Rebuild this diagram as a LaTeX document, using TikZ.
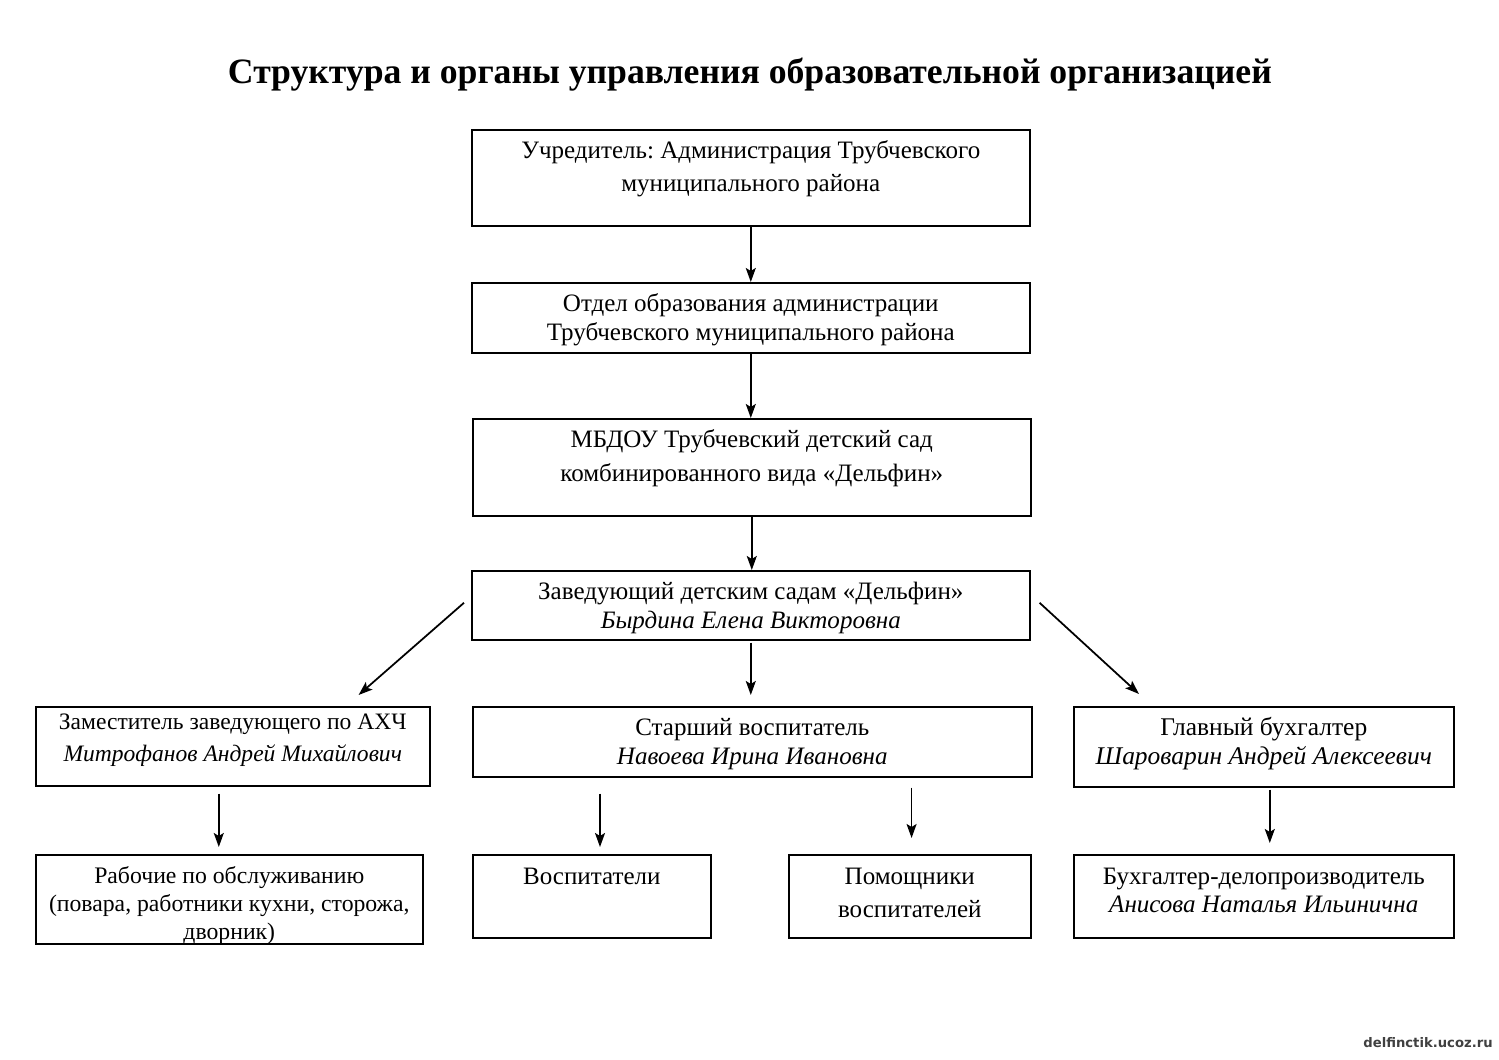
\documentclass[tikz,border=0pt]{standalone}
\usepackage{fontspec}
\setmainfont{Liberation Serif}
\newfontfamily\wmfont{DejaVu Sans}
\usetikzlibrary{arrows.meta}
\frenchspacing

\newlength\pxl
\setlength\pxl{0.02cm}
% box text: [font size], width, height, top pad, line skip, text
\newcommand{\cell}[6][14.25]{\parbox[c][#3\pxl][t]{#2\pxl}{\centering\fontsize{#1}{#5\pxl}\selectfont\rule{0pt}{#4\pxl}#6}}

\begin{document}
\begin{tikzpicture}[x=0.02cm,y=-0.02cm,
  box/.style={draw,line width=0.9pt,inner sep=0pt,anchor=north west},
  arr/.style={-{Stealth[length=0.28cm,width=0.2cm,inset=0.06cm]},line width=1pt}]
 \useasboundingbox (0,0) rectangle (1499,1060);
 \node[anchor=base,font=\fontsize{20.3}{24}\selectfont\bfseries] (title) at (750,84) {Структура и органы управления образовательной организацией};

 \node[box] (b1) at (471,129) {\cell{558}{96}{29}{33}{Учредитель: Администрация Трубчевского\\ муниципального района}};
 \node[box] (b2) at (471,282) {\cell{558}{70}{29}{29}{Отдел образования администрации\\ Трубчевского муниципального района}};
 \node[box] (b3) at (472,418) {\cell{558}{97}{29}{34}{МБДОУ Трубчевский детский сад\\ комбинированного вида «Дельфин»}};
 \node[box] (b4) at (471,570) {\cell{558}{69}{29}{29}{Заведующий детским садам «Дельфин»\\ \textit{Бырдина Елена Викторовна}}};

 \node[box] (b5) at (35,706) {\cell[13.4]{394}{79}{23}{32}{Заместитель заведующего по АХЧ\\ \textit{Митрофанов Андрей Михайлович}}};
 \node[box] (b6) at (472,706) {\cell{559}{70}{29}{29}{Старший воспитатель\\ \textit{Навоева Ирина Ивановна}}};
 \node[box] (b7) at (1073,706) {\cell[14.5]{380}{80}{29}{29}{Главный бухгалтер\\ \textit{Шароварин Андрей Алексеевич}}};

 \node[box] (b8) at (35,854) {\cell[13.5]{387}{89}{29}{28}{Рабочие по обслуживанию\\ (повара, работники кухни, сторожа,\\ дворник)}};
 \node[box] (b9) at (472,854) {\cell{238}{83}{30}{33}{Воспитатели}};
 \node[box] (b10) at (788,854) {\cell{242}{83}{30}{33}{Помощники\\ воспитателей}};
 \node[box] (b11) at (1073,854) {\cell{380}{83}{30}{28}{Бухгалтер-делопроизводитель\\ \textit{Анисова Наталья Ильинична}}};

 % arrows
 \draw[arr] (b1.south) -- (b1.south |- b2.north);
 \draw[arr] (b2.south) -- (b2.south |- b3.north);
 \draw[arr] (b3.south) -- (b3.south |- b4.north);
 \draw[arr,shorten <=2\pxl,shorten >=11\pxl] (b4.south) -- (b4.south |- b6.north);
 \draw[arr] ([shift={(-7,-2.5)}]b4.west) -- ([shift={(-72,-11)}]b5.north east);
 \draw[arr] ([shift={(9,-2.5)}]b4.east) -- ([shift={(66,-12)}]b7.north west);
 \draw[arr,shorten <=7\pxl,shorten >=7\pxl] ([xshift=-14\pxl]b5.south) -- ([xshift=-14\pxl]b5.south |- b8.north);
 \draw[arr,shorten <=16\pxl,shorten >=7\pxl] ([xshift=128\pxl]b6.south west) -- ([xshift=128\pxl]b6.south west |- b9.north);
 \draw[arr,shorten <=10\pxl,shorten >=16\pxl] ([xshift=-121\pxl]b6.south east) -- ([xshift=-121\pxl]b6.south east |- b10.north);
 \draw[arr,shorten <=2\pxl,shorten >=11\pxl] ([xshift=6\pxl]b7.south) -- ([xshift=6\pxl]b7.south |- b11.north);

 \node[font=\wmfont\bfseries\fontsize{7.5}{9}\selectfont,text=black!75] (wm) at (1428,1043) {delfinctik.ucoz.ru};
\end{tikzpicture}
\end{document}
